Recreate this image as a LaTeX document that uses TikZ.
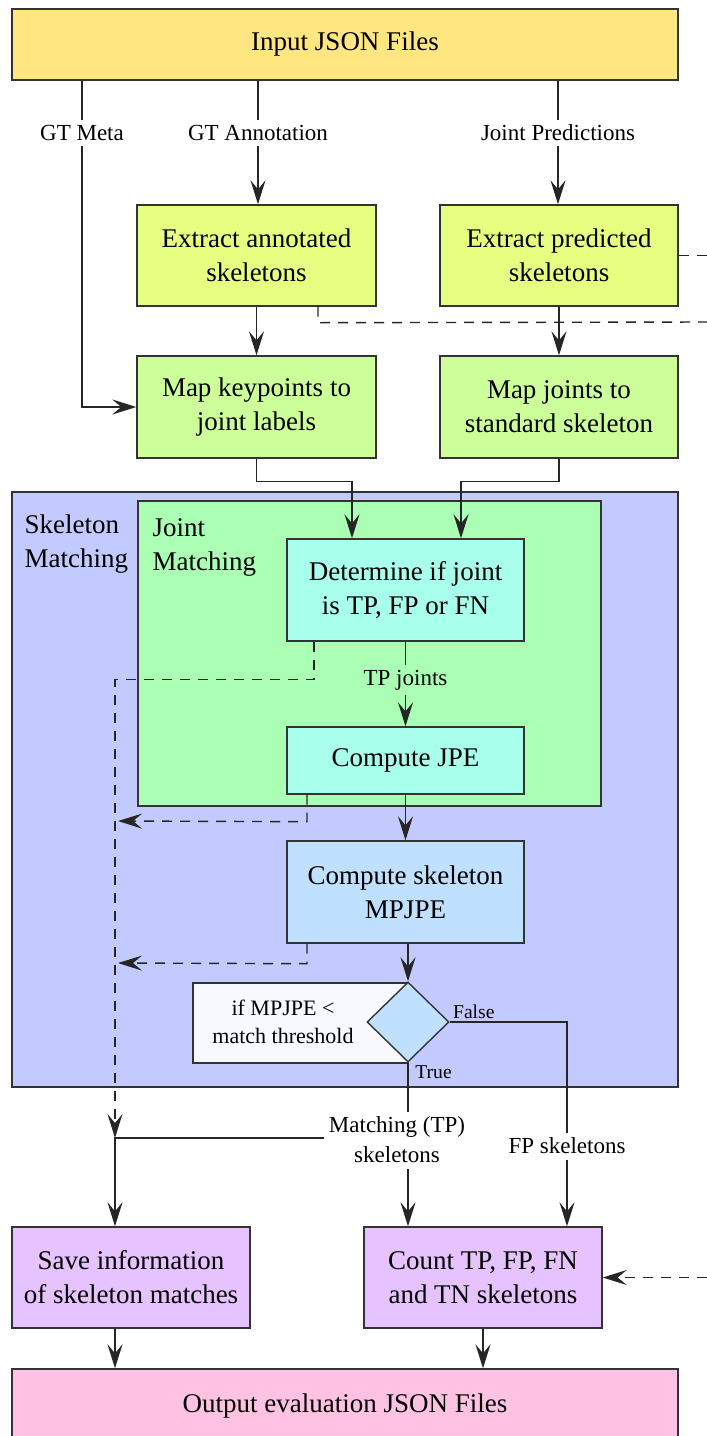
\documentclass[tikz,border=0pt]{standalone}
\usepackage{fontspec}
\setmainfont{Liberation Serif}
\usetikzlibrary{positioning,arrows.meta,shapes.geometric,calc}

\definecolor{inputyellow}{HTML}{FFE680}
\definecolor{extractgreen}{HTML}{E6FF80}
\definecolor{mapgreen}{HTML}{CCFF99}
\definecolor{skelblue}{HTML}{C3CAFF}
\definecolor{jointgreen}{HTML}{AAFFB4}
\definecolor{aqua}{HTML}{A8FFEC}
\definecolor{lightblue}{HTML}{C0E0FF}
\definecolor{ifwhite}{HTML}{F8F9FF}
\definecolor{countpurple}{HTML}{E6C3FF}
\definecolor{outpink}{HTML}{FFC2E2}

\tikzset{
  box/.style={draw=black!80, line width=0.7pt, align=center, inner sep=0pt,
    font=\rmfamily\fontsize{13.5}{17}\selectfont},
  lbl/.style={font=\rmfamily\fontsize{11.5}{15}\selectfont, align=center, inner sep=2.5pt},
  tiny/.style={font=\rmfamily\fontsize{9.8}{12}\selectfont, inner sep=1.5pt},
  conn/.style={draw=black!85, line width=0.7pt},
  arr/.style={conn, -{Stealth[length=12pt,width=7.5pt,inset=4.5pt]}},
  dashline/.style={conn, dash pattern=on 5pt off 4pt},
  dasharr/.style={arr, dash pattern=on 5pt off 4pt},
}

\begin{document}
\begin{tikzpicture}[x=0.5pt, y=-0.5pt]
    \useasboundingbox (0,0) rectangle (707,1436);
    \coordinate (rim) at (707,0);
    \coordinate (join) at (115,1138);

    % Input and extraction
    \node[box, fill=inputyellow, minimum width=333pt, minimum height=35.5pt] (inp) at (345,44.5) {Input JSON Files};
    \node[lbl] (gtmeta) at (82,133) {GT Meta};
    \node[lbl] (gtann) at (258,133) {GT Annotation};
    \node[lbl] (jpred) at (558,133) {Joint Predictions};

    \node[box, fill=extractgreen, minimum width=119.5pt, minimum height=50.5pt] (extann) at (256.5,255.5) {Extract annotated\\skeletons};
    \node[box, fill=extractgreen, minimum width=119pt, minimum height=50.5pt] (extpred) at (559,255.5) {Extract predicted\\skeletons};
    \node[box, fill=mapgreen, minimum width=119.5pt, minimum height=51pt] (mapkp) at (256.5,407) {Map keypoints to\\joint labels};
    \node[box, fill=mapgreen, minimum width=119pt, minimum height=51pt] (mapjt) at (559,407) {Map joints to\\standard skeleton};

    % Skeleton matching container
    \node[box, fill=skelblue, minimum width=333pt, minimum height=297.5pt] (skelm) at (345,789.5) {};
    \node[box, draw=none, anchor=north west, align=left] (skelmlbl) at (24,514) {Skeleton\\Matching};
    \node[box, fill=jointgreen, minimum width=231.5pt, minimum height=152.5pt] (jointm) at (369.5,653.5) {};
    \node[box, draw=none, anchor=north west, align=left] (jointmlbl) at (152,518) {Joint\\Matching};

    \node[box, fill=aqua, minimum width=118.5pt, minimum height=51pt] (det) at (405.5,590) {Determine if joint\\is TP, FP or FN};
    \node[lbl, fill=jointgreen] (tpj) at (405.5,680) {TP joints};
    \node[box, fill=aqua, minimum width=118.5pt, minimum height=33.5pt] (jpe) at (405.5,760.5) {Compute JPE};
    \node[box, fill=lightblue, minimum width=118.5pt, minimum height=51pt] (mpjpe) at (405.5,892) {Compute skeleton\\MPJPE};

    % Decision
    \node[box, fill=ifwhite, minimum width=107.5pt, minimum height=40pt] (ifbox) at (300.5,1023) {};
    \node[align=center, font=\rmfamily\fontsize{11}{14}\selectfont] (iftext) at (283,1022) {if MPJPE <\\match threshold};
    \node[diamond, draw=black!80, line width=0.7pt, fill=lightblue, minimum width=41pt, minimum height=40pt, inner sep=0pt] (dec) at (408,1022) {};
    \node[tiny, anchor=south west] (falselbl) at (dec.east) {False};
    \node[tiny, anchor=north west, xshift=2pt] (truelbl) at (dec.south) {True};

    \node[lbl] (tpskel) at (397,1140) {Matching (TP)\\skeletons};
    \node[lbl] (fpskel) at (567,1146) {FP skeletons};

    % Outputs
    \node[box, fill=countpurple, minimum width=119pt, minimum height=50.5pt] (save) at (131,1277.5) {Save information\\of skeleton matches};
    \node[box, fill=countpurple, minimum width=119pt, minimum height=50.5pt] (count) at (483,1277.5) {Count TP, FP, FN\\and TN skeletons};
    \node[box, fill=outpink, minimum width=333pt, minimum height=37pt] (out) at (345,1406) {Output evaluation JSON Files};

    % Connectors
    \draw[conn] (inp.south -| gtmeta) -- (gtmeta);
    \draw[arr] (gtmeta) |- (mapkp.west);
    \draw[conn] (inp.south -| gtann) -- (gtann);
    \draw[arr] (gtann) -- (extann.north -| gtann);
    \draw[conn] (inp.south -| jpred) -- (jpred);
    \draw[arr] (jpred) -- (extpred.north -| jpred);
    \draw[arr] (extann) -- (mapkp);
    \draw[arr] (extpred) -- (mapjt);
    \draw[dashline] (extpred.east) -- (extpred.east -| rim);
    \draw[dashline] ($(extann.south)+(61.5,0)$) -- ++(0,16) -- (707,322);

    \draw[arr] (mapkp.south) -- ++(0,23) -| ($(det.north)+(-53.5,0)$);
    \draw[arr] (mapjt.south) -- ++(0,23) -| ($(det.north)+(55.5,0)$);
    \draw[conn] (det) -- (tpj);
    \draw[arr] (tpj) -- (jpe);
    \draw[arr] (jpe) -- (mpjpe);
    \draw[arr] (mpjpe.south -| dec.north) -- (dec.north);

    \draw[dasharr] ($(det.south)+(-91.5,0)$) -- ++(0,38) -| (join);
    \draw[dasharr] ($(jpe.south)+(-98.5,0)$) -- ++(0,27) -- (118,821);
    \draw[dasharr] ($(mpjpe.south)+(-98.5,0)$) -- ++(0,20) -- (118,963);

    \draw[conn] (dec.south) -- (tpskel.north -| dec.south);
    \draw[arr] (tpskel.south -| dec.south) -- (count.north -| dec.south);
    \draw[arr] (tpskel.west |- join) -- (join) -- (save.north -| join);
    \draw[conn] (dec.east) -| (fpskel.north);
    \draw[arr] (fpskel) -- (count.north -| fpskel);
    \draw[dasharr] (count.east -| rim) -- (count.east);

    \draw[arr] (save.south -| join) -- (out.north -| join);
    \draw[arr] (count) -- (out.north -| count);
\end{tikzpicture}
\end{document}
